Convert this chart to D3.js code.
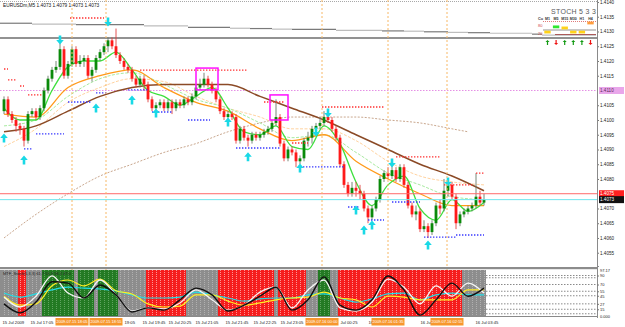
<!DOCTYPE html>
<html>
<head>
<meta charset="utf-8">
<script src="https://cdn.jsdelivr.net/npm/d3@7"></script>
<style>
  body { margin: 0; background: #fff; }
  svg { display: block; font-family: "Liberation Sans", Arial, sans-serif; }
</style>
</head>
<body>
<div id="chart"></div>
<script>
// ---- chart data ----
const title = "EURUSDm,M5  1.4073 1.4079 1.4073 1.4073";

const firstOpen = 1.4103;
const closes = [
  1.4107,1.4102,1.4100,1.4098,1.4097,1.4093,1.4102,1.4103,1.4101,1.4104,
  1.4110,1.4114,1.4117,1.4118,1.4124,1.4115,1.4119,1.4124,1.4119,1.4120,
  1.4121,1.4115,1.4117,1.4121,1.4123,1.4125,1.4127,1.4125,1.4122,1.4120,
  1.4118,1.4117,1.4114,1.4112,1.4114,1.4112,1.4107,1.4104,1.4105,1.4106,
  1.4104,1.4106,1.4104,1.4106,1.4105,1.4107,1.4106,1.4108,1.4111,1.4112,
  1.4114,1.4112,1.4110,1.4107,1.4103,1.4101,1.4102,1.4101,1.4093,1.4097,
  1.4094,1.4093,1.4095,1.4094,1.4095,1.4096,1.4097,1.4099,1.4101,1.4092,
  1.4087,1.4090,1.4089,1.4086,1.4087,1.4093,1.4094,1.4097,1.4098,1.4099,
  1.4101,1.4100,1.4097,1.4094,1.4085,1.4078,1.4075,1.4077,1.4076,1.4075,
  1.4070,1.4067,1.4070,1.4073,1.4080,1.4082,1.4081,1.4083,1.4080,1.4084,
  1.4078,1.4071,1.4068,1.4069,1.4063,1.4064,1.4062,1.4065,1.4071,1.4070,
  1.4076,1.4078,1.4074,1.4065,1.4068,1.4069,1.4070,1.4071,1.4074,1.4072,
  1.4073
];
const highs = [
  1.4108,1.4108,1.4103,1.4101,1.4099,1.4098,1.4103,1.4104,1.4104,1.4105,
  1.4111,1.4115,1.4118,1.4120,1.4126,1.4125,1.4120,1.4125,1.4125,1.4122,
  1.4122,1.4122,1.4118,1.4122,1.4124,1.4126,1.4128,1.4128,1.4131,1.4123,
  1.4121,1.4119,1.4118,1.4115,1.4115,1.4115,1.4113,1.4108,1.4106,1.4107,
  1.4107,1.4107,1.4107,1.4107,1.4107,1.4108,1.4108,1.4109,1.4112,1.4114,
  1.4116,1.4115,1.4113,1.4111,1.4108,1.4104,1.4103,1.4103,1.4102,1.4098,
  1.4098,1.4095,1.4096,1.4096,1.4096,1.4097,1.4098,1.4100,1.4107,1.4102,
  1.4093,1.4091,1.4091,1.4090,1.4088,1.4094,1.4096,1.4098,1.4099,1.4101,
  1.4103,1.4102,1.4101,1.4098,1.4095,1.4086,1.4079,1.4079,1.4079,1.4078,
  1.4076,1.4071,1.4071,1.4074,1.4081,1.4083,1.4084,1.4086,1.4084,1.4085,
  1.4085,1.4079,1.4072,1.4071,1.4070,1.4066,1.4065,1.4066,1.4072,1.4073,
  1.4080,1.4079,1.4079,1.4075,1.4069,1.4070,1.4071,1.4072,1.4082,1.4076,
  1.4075
];
const lows = [
  1.4102,1.4101,1.4099,1.4096,1.4095,1.4091,1.4092,1.4101,1.4100,1.4100,
  1.4103,1.4109,1.4113,1.4116,1.4117,1.4114,1.4114,1.4118,1.4118,1.4118,
  1.4118,1.4114,1.4113,1.4116,1.4120,1.4122,1.4123,1.4124,1.4121,1.4119,
  1.4117,1.4116,1.4113,1.4111,1.4111,1.4110,1.4106,1.4103,1.4103,1.4104,
  1.4103,1.4103,1.4102,1.4103,1.4104,1.4104,1.4105,1.4105,1.4107,1.4110,
  1.4111,1.4111,1.4109,1.4106,1.4102,1.4100,1.4099,1.4100,1.4092,1.4092,
  1.4093,1.4091,1.4092,1.4093,1.4093,1.4094,1.4095,1.4096,1.4098,1.4091,
  1.4086,1.4086,1.4088,1.4084,1.4085,1.4086,1.4091,1.4092,1.4095,1.4097,
  1.4098,1.4099,1.4096,1.4093,1.4084,1.4077,1.4074,1.4074,1.4074,1.4073,
  1.4069,1.4065,1.4066,1.4069,1.4072,1.4079,1.4080,1.4080,1.4079,1.4079,
  1.4077,1.4070,1.4067,1.4066,1.4062,1.4062,1.4060,1.4061,1.4064,1.4068,
  1.4069,1.4074,1.4073,1.4063,1.4064,1.4067,1.4068,1.4069,1.4070,1.4071,
  1.4071
];

// moving averages, read every 4 / 8 bars
const fastIdx = d3.range(0, 121, 4);
const slowIdx = d3.range(0, 121, 8);
const greenMa = [1.4104,1.4100,1.4100,1.4110,1.4118,1.4120,1.4120,1.4123,1.4117,1.4110,
  1.4108,1.4105,1.4108,1.4111,1.4104,1.4096,1.4095,1.4098,1.4091,1.4090,
  1.4098,1.4092,1.4079,1.4071,1.4078,1.4081,1.4070,1.4066,1.4073,1.4069,1.4072];
const orangeMa = [1.4102,1.4101,1.4111,1.4115,1.4117,1.4111,1.4106,1.4103,1.4097,1.4093,1.4095,1.4086,1.4080,1.4075,1.4071,1.4071];
const paleGreenMa = [1.4098,1.4100,1.4108,1.4114,1.4116,1.4112,1.4107,1.4104,1.4099,1.4094,1.4095,1.4089,1.4082,1.4078,1.4074,1.4073];
const paleOrangeMa = [1.4091,1.4097,1.4106,1.4111,1.4114,1.4113,1.4108,1.4104,1.4101,1.4097,1.4097,1.4093,1.4086,1.4081,1.4079,1.4078];
const brownMa = [1.4096,1.4098,1.4103,1.4108,1.4111,1.4112,1.4112,1.4112,1.4108,1.4104,1.4100,1.4095,1.4090,1.4085,1.4081,1.4076];
const tanIdx = [0,8,16,24,32,40,48,56,64,72,80,88,96,104,112,116];
const tanMa = [1.4060,1.4068,1.4075,1.4081,1.4085,1.4089,1.4092,1.4096,1.4099,1.4101,1.4101,1.4101,1.4100,1.4099,1.4097,1.4096];

// higher timeframe stepped line + flat level at the top
const htfIdx = [-1,7,18,35,46,56.5,61.5,67,72,83,94.5,100,105,111,116,121.5,132,134.5];
const htfVal = [1.41328,1.41325,1.41323,1.41319,1.41314,1.41311,1.41310,1.41308,1.41307,1.41304,1.41302,1.41301,1.41299,1.41297,1.41296,1.41294,1.41291,1.41288];
const htfEnd = 148;
const flatLevel = 1.41278;

// fractal levels: [start bar, end bar, price]
const resLines = [[0,1,1.41173],[1,3,1.41136],[4,5,1.41115],[6,9.5,1.41085],[16.5,25,1.41346],
  [34,61,1.41169],[65,70,1.41061],[72,76,1.40922],[79.5,95,1.41044],[98,109,1.40875],[110,117,1.40780],[118,120,1.40820]];
const supLines = [[5,7,1.40902],[8,15,1.40953],[16,22,1.41061],[23,26,1.41092],[31,36,1.41102],[37,42,1.41027],
  [46,51.5,1.41000],[58,69,1.40905],[74,85,1.40841],[86,89,1.40705],[91,95,1.40661],[97,104,1.40722],[105,113,1.40603],[113,120,1.40610]];

// signal arrows: [bar, price]
const upArrows = [[0,1.40939],[5,1.40864],[23,1.41041],[32,1.41068],[38,1.41024],[56,1.40993],[61,1.40875],
  [74,1.40837],[88,1.40695],[90,1.40627],[92,1.40644],[106,1.40576]];
const downArrows = [[14,1.41271],[26,1.41332],[78,1.40959],[81,1.41024],[97,1.40854],[111,1.40790]];

// boxes: [start bar, end bar, top price, bottom price]
const boxes = [[48,53.5,1.41176,1.41102],[66.5,71,1.41085,1.41000]];

const levelPrice = 1.4110;
const askPrice = 1.4075;
const bidPrice = 1.4073;
const priceTicks = [1.4140,1.4135,1.4130,1.4125,1.4120,1.4115,1.4105,1.4100,1.4095,1.4090,1.4085,1.4080,1.4070,1.4065,1.4060,1.4055];

// session separators
const sepIdx = [17, 25.5, 79.5, 96, 110.75];
const sepLabel = ["2009.07.15 18:05","2009.07.15 18:55","2009.07.16 00:00","2009.07.16 01:35","2009.07.16 02:55"];

// time axis (only the parts left visible beside the orange tags)
const timeIdx = [-0.5,6.5,30,34.5,41,47.75,55.25,62.25,69,84,91,104,117.75];
const timeText = ["15 Jul 2009","15 Jul 17:05","19:05","15 Jul 19:45","15 Jul 20:25","15 Jul 21:05",
  "15 Jul 21:45","15 Jul 22:25","15 Jul 23:05","Jul 00:25","16","16 Jul","16 Jul 03:45"];

// STOCH 5 3 3 dashboard
const tfNames = ["M1","M5","M15","M30","H1","H4"];
const tfLevel = [27, 66, 58, 27, 27, 95];
const tfState = ["low","up","mid","low","low","high"];
const tfDir = ["up","down","up","up","up","down"];

// sub window oscillator, every 4 bars
const stochBlack = [27,7,31,76,73,40,69,47,9,18,13,36,62,47,11,24,44,64,13,36,87,24,13,36,89,58,2,36,73,44,62];
const stochWhite = [42,20,44,89,51,40,80,47,11,18,16,29,58,36,13,24,53,64,18,58,80,18,11,31,82,64,27,67,44,73,51];
const stochYellow = [44,24,27,67,80,67,82,56,49,27,20,22,47,47,33,24,29,36,40,42,53,40,36,20,44,42,36,36,36,58,58];
const stochCyan = [51,42,49,58,64,62,60,56,47,40,40,42,53,47,40,33,38,40,40,47,49,40,31,38,49,51,36,47,51,47,47];
const redZones = [[4,5],[36,45],[54,67],[69,75],[84,94],[95,114]];
const greenZones = [[10,17],[19,22],[24,28],[79,81]];
const subLevels = [90, 85, 70, 55, 45, 27, 15, 5];
const subTicks = [90, 70, 55, 45, 27, 15];
const subTop = "97.17";
const subBottom = "0.000";
const subLabel = "MTF_Stoch(5,3,3) 61.7 51.3 58.2 47.0";

// ---- layout ----
const W = 625, H = 327;
const axisX = 597;
const mainBottom = 267;

const svg = d3.select("#chart").append("svg")
    .attr("width", W)
    .attr("height", H);

svg.append("rect").attr("width", W).attr("height", H).attr("fill", "#fff");

const x = d3.scaleLinear().domain([0, 120]).range([4, 484]);
const y = d3.scaleLinear().domain([1.40505, 1.4140]).range([266, 2]);
const ySub = d3.scaleLinear().domain([0, 100]).range([316, 271]);

svg.append("clipPath").attr("id", "mainClip")
  .append("rect").attr("x", 0).attr("y", 0).attr("width", axisX).attr("height", mainBottom);
svg.append("clipPath").attr("id", "subClip")
  .append("rect").attr("x", 0).attr("y", 270).attr("width", axisX).attr("height", 46);

const main = svg.append("g").attr("clip-path", "url(#mainClip)");

// top border
svg.append("line").attr("x1", 0).attr("x2", axisX).attr("y1", 1.5).attr("y2", 1.5)
    .attr("stroke", "#a8a8a8").attr("stroke-dasharray", "1,1");

// pink level
main.append("line")
    .attr("x1", 0).attr("x2", axisX)
    .attr("y1", y(levelPrice)).attr("y2", y(levelPrice))
    .attr("stroke", "#e58fe5").attr("stroke-dasharray", "1.5,1.5");

// stepped higher timeframe line
htfIdx.forEach((s, i) => {
  const e = i < htfIdx.length - 1 ? htfIdx[i + 1] : htfEnd;
  main.append("line")
      .attr("x1", x(s)).attr("x2", x(e))
      .attr("y1", y(htfVal[i])).attr("y2", y(htfVal[i]))
      .attr("stroke", i % 2 ? "#bdbdbd" : "#7a7a7a")
      .attr("stroke-width", 1.2);
});
main.append("line")
    .attr("x1", 0).attr("x2", axisX)
    .attr("y1", y(flatLevel)).attr("y2", y(flatLevel))
    .attr("stroke", "#6e6e6e").attr("stroke-width", 1.3);

// moving averages
function drawMa(idx, vals, color, width, dash) {
  const line = d3.line()
      .x((d, i) => x(idx[i]))
      .y(d => y(d))
      .curve(d3.curveMonotoneX);
  main.append("path")
      .datum(vals)
      .attr("d", line)
      .attr("fill", "none")
      .attr("stroke", color)
      .attr("stroke-width", width)
      .attr("stroke-dasharray", dash || null);
}
drawMa(tanIdx, tanMa, "#c9a78e", 1, "2,1.5");
drawMa(slowIdx, paleOrangeMa, "#ffd3a0", 1, "3,1.5");
drawMa(slowIdx, paleGreenMa, "#a8eaa0", 1, "3,1.5");
drawMa(slowIdx, brownMa, "#8b4a26", 1.5);
drawMa(slowIdx, orangeMa, "#ff9a1a", 1.3);
drawMa(fastIdx, greenMa, "#3ee03e", 1.3);

// candles
const opens = [firstOpen].concat(closes.slice(0, -1));
const bars = closes.map((c, i) => ({ i: i, o: opens[i], h: highs[i], l: lows[i], c: c }));
const candleColor = d => d.c > d.o ? "#0a8a0a" : (d.c < d.o ? "#ff1a1a" : "#808080");

main.selectAll(".wick")
    .data(bars)
    .enter()
    .append("line")
    .attr("x1", d => x(d.i)).attr("x2", d => x(d.i))
    .attr("y1", d => y(d.h)).attr("y2", d => y(d.l))
    .attr("stroke", d => d.c >= d.o ? "#6a7a6a" : "#e04040")
    .attr("stroke-width", 0.9);

main.selectAll(".body")
    .data(bars)
    .enter()
    .append("rect")
    .attr("x", d => x(d.i) - 1.4)
    .attr("width", 2.8)
    .attr("y", d => y(Math.max(d.o, d.c)))
    .attr("height", d => Math.max(1, Math.abs(y(d.o) - y(d.c))))
    .attr("fill", candleColor);

// fractal dotted levels
function dotted(list, color) {
  main.selectAll(null)
      .data(list)
      .enter()
      .append("line")
      .attr("x1", d => x(d[0])).attr("x2", d => x(d[1]))
      .attr("y1", d => y(d[2])).attr("y2", d => y(d[2]))
      .attr("stroke", color)
      .attr("stroke-width", 1.4)
      .attr("stroke-dasharray", "1.4,1.6");
}
dotted(resLines, "#ff3030");
dotted(supLines, "#3a3aff");

// arrows
const upPath = "M0,-4.5 L3.8,0 L1.3,0 L1.3,4.5 L-1.3,4.5 L-1.3,0 L-3.8,0 Z";
main.selectAll(".up")
    .data(upArrows)
    .enter()
    .append("path")
    .attr("d", upPath)
    .attr("transform", d => `translate(${x(d[0])},${y(d[1])})`)
    .attr("fill", "#19d9e6");
main.selectAll(".down")
    .data(downArrows)
    .enter()
    .append("path")
    .attr("d", upPath)
    .attr("transform", d => `translate(${x(d[0])},${y(d[1])}) rotate(180)`)
    .attr("fill", "#19d9e6");

// magenta boxes
main.selectAll(".box")
    .data(boxes)
    .enter()
    .append("rect")
    .attr("x", d => x(d[0])).attr("width", d => x(d[1]) - x(d[0]))
    .attr("y", d => y(d[2])).attr("height", d => y(d[3]) - y(d[2]))
    .attr("fill", "none")
    .attr("stroke", "#ff10ff")
    .attr("stroke-width", 1.5);

// ask / bid lines
main.append("line").attr("x1", 0).attr("x2", axisX)
    .attr("y1", y(askPrice)).attr("y2", y(askPrice))
    .attr("stroke", "#ff6a6a").attr("stroke-width", 1);
main.append("line").attr("x1", 0).attr("x2", axisX)
    .attr("y1", y(bidPrice)).attr("y2", y(bidPrice))
    .attr("stroke", "#6fe6ee").attr("stroke-width", 1);

// session separators (main + sub window)
svg.selectAll(".sep")
    .data(sepIdx)
    .enter()
    .append("line")
    .attr("x1", d => x(d)).attr("x2", d => x(d))
    .attr("y1", 0).attr("y2", 317)
    .attr("stroke", "#f7b867")
    .attr("stroke-dasharray", "2,2");

// STOCH 5 3 3 dashboard
const tfX = d3.scalePoint().domain(tfNames).range([547.5, 590.5]);
const tfY = d3.scaleLinear().domain([20, 80]).range([33, 25]);
const dash = svg.append("g");
dash.append("text").attr("x", 551).attr("y", 14)
    .attr("font-size", 7).attr("fill", "#5a5a5a").attr("letter-spacing", 0.3)
    .text("STOCH  5 3 3");
dash.append("text").attr("x", 538).attr("y", 19.5)
    .attr("font-size", 3.8).attr("font-weight", "bold").attr("fill", "#333").text("Cu");
dash.selectAll(".tf")
    .data(tfNames)
    .enter()
    .append("text")
    .attr("x", d => tfX(d)).attr("y", 19.5)
    .attr("text-anchor", "middle")
    .attr("font-size", 3.6).attr("font-weight", "bold").attr("fill", "#333")
    .text(d => d);
dash.append("line").attr("x1", 543).attr("x2", 596).attr("y1", 21.5).attr("y2", 21.5)
    .attr("stroke", "#e07a7a").attr("stroke-dasharray", "1,1");
dash.append("line").attr("x1", 543).attr("x2", 596).attr("y1", 30).attr("y2", 30)
    .attr("stroke", "#777").attr("stroke-width", 0.8);
dash.append("line").attr("x1", 555).attr("x2", 596).attr("y1", 34.5).attr("y2", 34.5)
    .attr("stroke", "#a03838").attr("stroke-width", 0.8);
dash.append("text").attr("x", 538).attr("y", 26.5).attr("font-size", 4).attr("fill", "#d04848").text("80");
dash.append("text").attr("x", 538).attr("y", 34.5).attr("font-size", 4).attr("fill", "#d04848").text("20");
const stateColor = { low: "#ffd21a", up: "#2ee82e", mid: "#ffd21a", high: "#ff9d3c" };
dash.selectAll(".cell")
    .data(tfNames)
    .enter()
    .append("rect")
    .attr("x", d => tfX(d) - 3.2)
    .attr("y", (d, i) => tfY(tfLevel[i]) - 1.4)
    .attr("width", 6.4).attr("height", 2.8)
    .attr("fill", (d, i) => stateColor[tfState[i]]);
dash.selectAll(".dir")
    .data(tfNames)
    .enter()
    .append("path")
    .attr("d", "M0,-2.6 L2,-0.4 L0.6,-0.4 L0.6,2.6 L-0.6,2.6 L-0.6,-0.4 L-2,-0.4 Z")
    .attr("transform", (d, i) => `translate(${tfX(d)},42.5)` + (tfDir[i] === "down" ? " rotate(180)" : ""))
    .attr("fill", (d, i) => tfDir[i] === "up" ? "#119911" : "#ee1111");

// title
svg.append("text").attr("x", 3).attr("y", 6.5)
    .attr("font-size", 4.8).attr("fill", "#111")
    .text(title);

// price axis
const priceAxis = d3.axisRight(y)
    .tickValues(priceTicks)
    .tickFormat(d3.format(".4f"))
    .tickSize(2);
const pa = svg.append("g")
    .attr("transform", `translate(${axisX},0)`)
    .call(priceAxis);
pa.select(".domain").attr("stroke", "#8a8a8a");
pa.selectAll("line").attr("stroke", "#777");
pa.selectAll("text").attr("font-size", 4.6).attr("fill", "#222").attr("x", 3);
svg.append("line").attr("x1", axisX + 0.5).attr("x2", axisX + 0.5).attr("y1", 0).attr("y2", 318)
    .attr("stroke", "#8a8a8a");

function priceTag(p, bg, fg) {
  svg.append("rect").attr("x", axisX + 2).attr("y", y(p) - 3.5).attr("width", 25).attr("height", 7).attr("fill", bg);
  svg.append("text").attr("x", axisX + 3).attr("y", y(p) + 1.6)
      .attr("font-size", 4.6).attr("fill", fg).text(d3.format(".4f")(p));
}
priceTag(levelPrice, "#e9a6ea", "#5a2a5a");
priceTag(askPrice, "#ff2020", "#fff");
priceTag(bidPrice, "#111", "#fff");

// ---- sub window ----
svg.append("rect").attr("x", 0).attr("y", 267).attr("width", axisX + 1).attr("height", 2.2).attr("fill", "#8c8c8c");
const sub = svg.append("g").attr("clip-path", "url(#subClip)");

sub.selectAll(".lvl")
    .data(subLevels)
    .enter()
    .append("line")
    .attr("x1", 0).attr("x2", axisX)
    .attr("y1", d => ySub(d)).attr("y2", d => ySub(d))
    .attr("stroke", "#8a8a8a").attr("stroke-dasharray", "1.5,1.5");

const zoneOf = i => {
  if (redZones.some(z => i >= z[0] && i <= z[1])) return "red";
  if (greenZones.some(z => i >= z[0] && i <= z[1])) return "green";
  return "gray";
};
const zoneFill = { red: "#f51d1d", green: "#237a23", gray: "#8d8d8d" };
const zoneStripe = { red: "#ffb3b3", green: "#6fb06f", gray: "#b9b9b9" };
const subBars = closes.map((c, i) => ({ i: i, z: zoneOf(i) }));
sub.selectAll(".bg")
    .data(subBars)
    .enter()
    .append("rect")
    .attr("x", d => d.i === 0 ? 0 : x(d.i) - 2)
    .attr("width", d => d.i === 0 ? x(0) + 2 : 4)
    .attr("y", 270).attr("height", 46)
    .attr("fill", d => zoneFill[d.z]);
sub.selectAll(".stripe")
    .data(subBars)
    .enter()
    .append("line")
    .attr("x1", d => x(d.i) + 0.5).attr("x2", d => x(d.i) + 0.5)
    .attr("y1", 270).attr("y2", 316)
    .attr("stroke", d => zoneStripe[d.z])
    .attr("stroke-width", 0.8)
    .attr("stroke-dasharray", "1,1");

function drawOsc(vals, color, width) {
  const line = d3.line()
      .x((d, i) => x(fastIdx[i]))
      .y(d => ySub(d))
      .curve(d3.curveMonotoneX);
  sub.append("path")
      .datum(vals)
      .attr("d", line)
      .attr("fill", "none")
      .attr("stroke", color)
      .attr("stroke-width", width);
}
drawOsc(stochCyan, "#22dde6", 1.2);
drawOsc(stochYellow, "#ffee22", 1.2);
drawOsc(stochWhite, "#f4f4f4", 1.3);
drawOsc(stochBlack, "#111", 1.4);

svg.append("text").attr("x", 3).attr("y", 275)
    .attr("font-size", 4).attr("fill", "#222")
    .text(subLabel);

const subAxis = d3.axisRight(ySub).tickValues(subTicks).tickSize(2);
const sa = svg.append("g").attr("transform", `translate(${axisX},0)`).call(subAxis);
sa.select(".domain").remove();
sa.selectAll("line").attr("stroke", "#777");
sa.selectAll("text").attr("font-size", 4).attr("fill", "#222").attr("x", 3);
svg.append("text").attr("x", axisX + 3).attr("y", 272).attr("font-size", 4).attr("fill", "#222").text(subTop);
svg.append("text").attr("x", axisX + 3).attr("y", 317.5).attr("font-size", 4).attr("fill", "#222").text(subBottom);

svg.append("line").attr("x1", 0).attr("x2", axisX).attr("y1", 316.5).attr("y2", 316.5)
    .attr("stroke", "#8a8a8a");

// ---- time axis ----
svg.selectAll(".time")
    .data(timeIdx)
    .enter()
    .append("text")
    .attr("x", d => x(d) + 0.5)
    .attr("y", 323.5)
    .attr("font-size", 4.2)
    .attr("fill", "#222")
    .text((d, i) => timeText[i]);

const tags = svg.selectAll(".tag")
    .data(sepIdx)
    .enter()
    .append("g")
    .attr("transform", d => `translate(${x(d)},318)`);
tags.append("rect")
    .attr("x", -16.5).attr("width", 33)
    .attr("y", 0).attr("height", 7.5)
    .attr("fill", "#f7972e");
tags.append("text")
    .attr("y", 5.4)
    .attr("text-anchor", "middle")
    .attr("font-size", 4)
    .attr("fill", "#fff")
    .text((d, i) => sepLabel[i]);
</script>
</body>
</html>
